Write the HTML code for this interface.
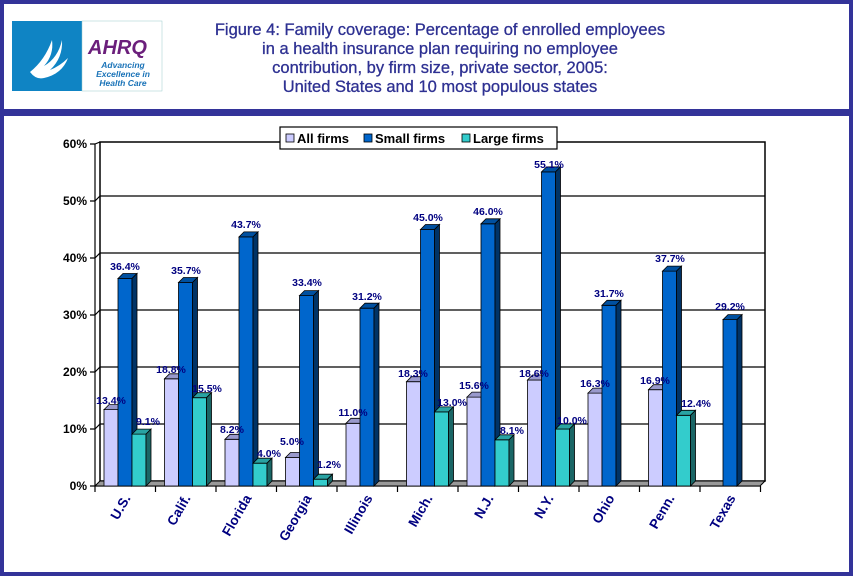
<!DOCTYPE html>
<html><head><meta charset="utf-8"><style>
html,body{margin:0;padding:0;background:#fff}
</style></head><body>
<svg width="853" height="576" xmlns="http://www.w3.org/2000/svg" font-family="Liberation Sans, sans-serif">
<rect x="0" y="0" width="853" height="576" fill="#333399"/>
<rect x="4" y="4" width="845" height="568" fill="#fff"/>
<rect x="0" y="109" width="853" height="7" fill="#333399"/>
<!-- logo -->
<rect x="12" y="21" width="70" height="70" fill="#0f84c4"/>
<path d="M30 72 Q45 60 52 40 Q54 55 44 66 Q58 58 62 40 Q63 58 50 70 Q60 66 68 58 Q62 74 44 78 Q36 80 30 72Z" fill="#fff"/>
<rect x="82" y="21" width="80" height="70" fill="#fff" stroke="#9cc" stroke-width="0.5"/>
<text x="88" y="54" font-size="20" font-weight="bold" font-style="italic" fill="#6b1f7b">AHRQ</text>
<text x="123" y="68" font-size="8.5" font-weight="bold" font-style="italic" fill="#1a73b8" text-anchor="middle">Advancing</text>
<text x="123" y="77" font-size="8.5" font-weight="bold" font-style="italic" fill="#1a73b8" text-anchor="middle">Excellence in</text>
<text x="123" y="86" font-size="8.5" font-weight="bold" font-style="italic" fill="#1a73b8" text-anchor="middle">Health Care</text>
<!-- title -->
<g font-size="16.5" fill="#2e3192" text-anchor="middle" stroke="#2e3192" stroke-width="0.3">
<text x="440" y="35">Figure 4: Family coverage: Percentage of enrolled employees</text>
<text x="440" y="54">in a health  insurance plan requiring no employee</text>
<text x="440" y="73">contribution, by firm size, private  sector, 2005:</text>
<text x="440" y="92">United States and 10 most populous states</text>
</g>
<!-- back wall & grid -->
<rect x="100" y="142" width="665" height="339" fill="#fff" stroke="#000" stroke-width="1.5"/>
<g stroke="#000" stroke-width="1.2" fill="none">
<path d="M95 429 L100 424 H765 M95 372 L100 367 H765 M95 315 L100 310 H765 M95 258 L100 253 H765 M95 201 L100 196 H765 M95 144 L100 142"/>
<path d="M95 144 V486 H760 M90 486H95 M90 429H95 M90 372H95 M90 315H95 M90 258H95 M90 201H95 M90 144H95"/>
<path d="M95 486V492 M155.5 486V492 M216 486V492 M276.5 486V492 M337 486V492 M397.5 486V492 M458 486V492 M518.5 486V492 M579 486V492 M639.5 486V492 M700 486V492 M760.5 486V492"/>
</g>
<polygon points="95,486 100,481 765,481 760,486" fill="#999" stroke="#000" stroke-width="1"/>
<g font-size="12" font-weight="bold" text-anchor="end">
<text x="87" y="490">0%</text><text x="87" y="433">10%</text><text x="87" y="376">20%</text><text x="87" y="319">30%</text><text x="87" y="262">40%</text><text x="87" y="205">50%</text><text x="87" y="148">60%</text>
</g>
<g stroke="#000" stroke-width="0.8">
<rect x="104" y="409.6" width="14" height="76.4" fill="#ccccff"/><polygon points="104,409.6 109,404.6 123,404.6 118,409.6" fill="#9999cc"/>
<rect x="118" y="278.5" width="14" height="207.5" fill="#0066cc"/><polygon points="118,278.5 123,273.5 137,273.5 132,278.5" fill="#0050a0"/><polygon points="132,278.5 137,273.5 137,481 132,486" fill="#003366"/>
<rect x="132" y="434.1" width="14" height="51.9" fill="#33cccc"/><polygon points="132,434.1 137,429.1 151,429.1 146,434.1" fill="#29a3a3"/><polygon points="146,434.1 151,429.1 151,481 146,486" fill="#1a6666"/>
<rect x="164.5" y="378.8" width="14" height="107.2" fill="#ccccff"/><polygon points="164.5,378.8 169.5,373.8 183.5,373.8 178.5,378.8" fill="#9999cc"/>
<rect x="178.5" y="282.5" width="14" height="203.5" fill="#0066cc"/><polygon points="178.5,282.5 183.5,277.5 197.5,277.5 192.5,282.5" fill="#0050a0"/><polygon points="192.5,282.5 197.5,277.5 197.5,481 192.5,486" fill="#003366"/>
<rect x="192.5" y="397.7" width="14" height="88.3" fill="#33cccc"/><polygon points="192.5,397.7 197.5,392.7 211.5,392.7 206.5,397.7" fill="#29a3a3"/><polygon points="206.5,397.7 211.5,392.7 211.5,481 206.5,486" fill="#1a6666"/>
<rect x="225" y="439.3" width="14" height="46.7" fill="#ccccff"/><polygon points="225,439.3 230,434.3 244,434.3 239,439.3" fill="#9999cc"/>
<rect x="239" y="236.9" width="14" height="249.1" fill="#0066cc"/><polygon points="239,236.9 244,231.9 258,231.9 253,236.9" fill="#0050a0"/><polygon points="253,236.9 258,231.9 258,481 253,486" fill="#003366"/>
<rect x="253" y="463.2" width="14" height="22.8" fill="#33cccc"/><polygon points="253,463.2 258,458.2 272,458.2 267,463.2" fill="#29a3a3"/><polygon points="267,463.2 272,458.2 272,481 267,486" fill="#1a6666"/>
<rect x="285.5" y="457.5" width="14" height="28.5" fill="#ccccff"/><polygon points="285.5,457.5 290.5,452.5 304.5,452.5 299.5,457.5" fill="#9999cc"/>
<rect x="299.5" y="295.6" width="14" height="190.4" fill="#0066cc"/><polygon points="299.5,295.6 304.5,290.6 318.5,290.6 313.5,295.6" fill="#0050a0"/><polygon points="313.5,295.6 318.5,290.6 318.5,481 313.5,486" fill="#003366"/>
<rect x="313.5" y="479.2" width="14" height="6.8" fill="#33cccc"/><polygon points="313.5,479.2 318.5,474.2 332.5,474.2 327.5,479.2" fill="#29a3a3"/><polygon points="327.5,479.2 332.5,474.2 332.5,481 327.5,486" fill="#1a6666"/>
<rect x="346" y="423.3" width="14" height="62.7" fill="#ccccff"/><polygon points="346,423.3 351,418.3 365,418.3 360,423.3" fill="#9999cc"/>
<rect x="360" y="308.2" width="14" height="177.8" fill="#0066cc"/><polygon points="360,308.2 365,303.2 379,303.2 374,308.2" fill="#0050a0"/><polygon points="374,308.2 379,303.2 379,481 374,486" fill="#003366"/>
<rect x="406.5" y="381.7" width="14" height="104.3" fill="#ccccff"/><polygon points="406.5,381.7 411.5,376.7 425.5,376.7 420.5,381.7" fill="#9999cc"/>
<rect x="420.5" y="229.5" width="14" height="256.5" fill="#0066cc"/><polygon points="420.5,229.5 425.5,224.5 439.5,224.5 434.5,229.5" fill="#0050a0"/><polygon points="434.5,229.5 439.5,224.5 439.5,481 434.5,486" fill="#003366"/>
<rect x="434.5" y="411.9" width="14" height="74.1" fill="#33cccc"/><polygon points="434.5,411.9 439.5,406.9 453.5,406.9 448.5,411.9" fill="#29a3a3"/><polygon points="448.5,411.9 453.5,406.9 453.5,481 448.5,486" fill="#1a6666"/>
<rect x="467" y="397.1" width="14" height="88.9" fill="#ccccff"/><polygon points="467,397.1 472,392.1 486,392.1 481,397.1" fill="#9999cc"/>
<rect x="481" y="223.8" width="14" height="262.2" fill="#0066cc"/><polygon points="481,223.8 486,218.8 500,218.8 495,223.8" fill="#0050a0"/><polygon points="495,223.8 500,218.8 500,481 495,486" fill="#003366"/>
<rect x="495" y="439.8" width="14" height="46.2" fill="#33cccc"/><polygon points="495,439.8 500,434.8 514,434.8 509,439.8" fill="#29a3a3"/><polygon points="509,439.8 514,434.8 514,481 509,486" fill="#1a6666"/>
<rect x="527.5" y="380" width="14" height="106" fill="#ccccff"/><polygon points="527.5,380 532.5,375 546.5,375 541.5,380" fill="#9999cc"/>
<rect x="541.5" y="171.9" width="14" height="314.1" fill="#0066cc"/><polygon points="541.5,171.9 546.5,166.9 560.5,166.9 555.5,171.9" fill="#0050a0"/><polygon points="555.5,171.9 560.5,166.9 560.5,481 555.5,486" fill="#003366"/>
<rect x="555.5" y="429" width="14" height="57" fill="#33cccc"/><polygon points="555.5,429 560.5,424 574.5,424 569.5,429" fill="#29a3a3"/><polygon points="569.5,429 574.5,424 574.5,481 569.5,486" fill="#1a6666"/>
<rect x="588" y="393.1" width="14" height="92.9" fill="#ccccff"/><polygon points="588,393.1 593,388.1 607,388.1 602,393.1" fill="#9999cc"/>
<rect x="602" y="305.3" width="14" height="180.7" fill="#0066cc"/><polygon points="602,305.3 607,300.3 621,300.3 616,305.3" fill="#0050a0"/><polygon points="616,305.3 621,300.3 621,481 616,486" fill="#003366"/>
<rect x="648.5" y="389.7" width="14" height="96.3" fill="#ccccff"/><polygon points="648.5,389.7 653.5,384.7 667.5,384.7 662.5,389.7" fill="#9999cc"/>
<rect x="662.5" y="271.1" width="14" height="214.9" fill="#0066cc"/><polygon points="662.5,271.1 667.5,266.1 681.5,266.1 676.5,271.1" fill="#0050a0"/><polygon points="676.5,271.1 681.5,266.1 681.5,481 676.5,486" fill="#003366"/>
<rect x="676.5" y="415.3" width="14" height="70.7" fill="#33cccc"/><polygon points="676.5,415.3 681.5,410.3 695.5,410.3 690.5,415.3" fill="#29a3a3"/><polygon points="690.5,415.3 695.5,410.3 695.5,481 690.5,486" fill="#1a6666"/>
<rect x="723" y="319.6" width="14" height="166.4" fill="#0066cc"/><polygon points="723,319.6 728,314.6 742,314.6 737,319.6" fill="#0050a0"/><polygon points="737,319.6 742,314.6 742,481 737,486" fill="#003366"/>
</g>
<g font-size="10.5" font-weight="bold" fill="#000080" text-anchor="middle">
<text x="111" y="404">13.4%</text><text x="125" y="270">36.4%</text><text x="148" y="425">9.1%</text>
<text x="171" y="373">18.8%</text><text x="186" y="274">35.7%</text><text x="207" y="392">15.5%</text>
<text x="232" y="433">8.2%</text><text x="246" y="228">43.7%</text><text x="269" y="457">4.0%</text>
<text x="292" y="445">5.0%</text><text x="307" y="286">33.4%</text><text x="329" y="468">1.2%</text>
<text x="353" y="416">11.0%</text><text x="367" y="300">31.2%</text>
<text x="413" y="377">18.3%</text><text x="428" y="221">45.0%</text><text x="452" y="406">13.0%</text>
<text x="474" y="389">15.6%</text><text x="488" y="215">46.0%</text><text x="512" y="434">8.1%</text>
<text x="534" y="377">18.6%</text><text x="549" y="168">55.1%</text><text x="572" y="424">10.0%</text>
<text x="595" y="387">16.3%</text><text x="609" y="297">31.7%</text>
<text x="655" y="384">16.9%</text><text x="670" y="262">37.7%</text><text x="696" y="407">12.4%</text>
<text x="730" y="310">29.2%</text>
</g>
<g font-size="13.5" font-weight="bold" fill="#000080" text-anchor="end">
<text transform="translate(131,498) rotate(-60)">U.S.</text>
<text transform="translate(191,498) rotate(-60)">Calif.</text>
<text transform="translate(252,498) rotate(-60)">Florida</text>
<text transform="translate(312,498) rotate(-60)">Georgia</text>
<text transform="translate(373,498) rotate(-60)">Illinois</text>
<text transform="translate(433,498) rotate(-60)">Mich.</text>
<text transform="translate(494,498) rotate(-60)">N.J.</text>
<text transform="translate(554,498) rotate(-60)">N.Y.</text>
<text transform="translate(615,498) rotate(-60)">Ohio</text>
<text transform="translate(675,498) rotate(-60)">Penn.</text>
<text transform="translate(736,498) rotate(-60)">Texas</text>
</g>
<rect x="280" y="127" width="277" height="22" fill="#fff" stroke="#000" stroke-width="1.2"/>
<rect x="286" y="134" width="8" height="8" fill="#ccccff" stroke="#000" stroke-width="0.8"/>
<rect x="364" y="134" width="8" height="8" fill="#0066cc" stroke="#000" stroke-width="0.8"/>
<rect x="462" y="134" width="8" height="8" fill="#33cccc" stroke="#000" stroke-width="0.8"/>
<g font-size="13" font-weight="bold">
<text x="297" y="143">All firms</text><text x="375" y="143">Small firms</text><text x="473" y="143">Large firms</text>
</g>
</svg>
</body></html>
